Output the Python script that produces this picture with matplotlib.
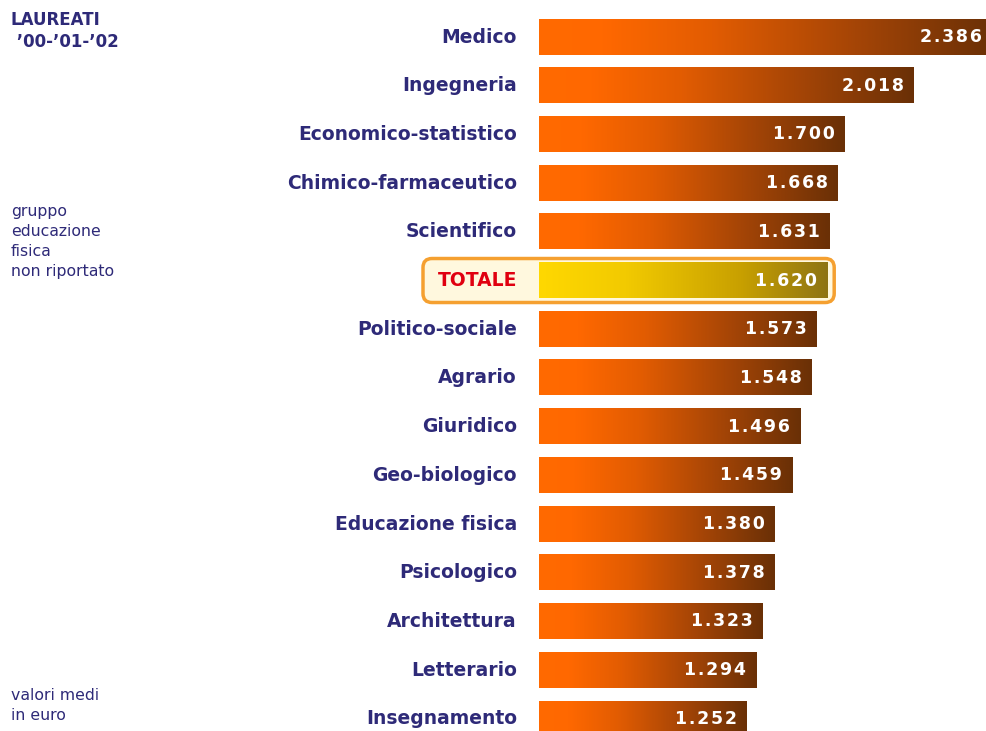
import numpy as np
import matplotlib.pyplot as plt
from matplotlib.colors import LinearSegmentedColormap
from matplotlib.patches import FancyBboxPatch
from matplotlib.transforms import IdentityTransform

# Average values in euro, graduates '00-'01-'02
categories = ["Medico", "Ingegneria", "Economico-statistico", "Chimico-farmaceutico",
              "Scientifico", "TOTALE", "Politico-sociale", "Agrario", "Giuridico",
              "Geo-biologico", "Educazione fisica", "Psicologico", "Architettura",
              "Letterario", "Insegnamento"]
values = [2386, 2018, 1700, 1668, 1631, 1620, 1573, 1548, 1496, 1459,
          1380, 1378, 1323, 1294, 1252]
value_labels = ["2.386", "2.018", "1.700", "1.668", "1.631", "1.620", "1.573", "1.548",
                "1.496", "1.459", "1.380", "1.378", "1.323", "1.294", "1.252"]
TOTAL_LABEL = "TOTALE"

NAVY = "#2E2A78"
X_START = 298   # value where the visible bars begin
X_END = 2353

orange_cmap = LinearSegmentedColormap.from_list(
    "orange", [(0, "#FF6A00"), (0.14, "#FF6800"), (0.38, "#E25C02"),
               (0.68, "#A84606"), (1, "#6A3006")])
gold_cmap = LinearSegmentedColormap.from_list(
    "gold", [(0, "#FFD800"), (0.3, "#F2CA00"), (0.7, "#C8A000"), (1, "#8E7414")])

fig = plt.figure(figsize=(9.87, 7.31), dpi=100)
ax = fig.add_axes([539 / 987, 0, 448 / 987, 1])
ax.set_xlim(X_START, X_END)
ax.set_ylim(14.25, -0.76)
ax.axis("off")
ax.set_zorder(2)

grad = np.linspace(0, 1, 256).reshape(1, -1)
h = 0.36
for i, (cat, v, lab) in enumerate(zip(categories, values, value_labels)):
    is_total = cat == TOTAL_LABEL
    cmap = gold_cmap if is_total else orange_cmap
    end = min(v, X_END)
    ax.imshow(grad, cmap=cmap, extent=[X_START, v, i + h, i - h],
              aspect="auto", zorder=2, interpolation="bilinear")
    ax.annotate("\u200a".join(lab), xy=(end, i), xytext=(-10 if v < X_END else -5, 0),
                textcoords="offset pixels", ha="right", va="center",
                color="white", fontsize=12.5, fontweight="bold",
                family="DejaVu Sans", zorder=4)
    ax.annotate(cat, xy=(X_START, i), xytext=(-22, 0), textcoords="offset pixels",
                ha="right", va="center", color="#E00010" if is_total else NAVY,
                fontsize=13.5, fontweight="bold", family="DejaVu Sans",
                annotation_clip=False)

# highlight box around TOTALE, built in pixel space from the bar position
ti = categories.index(TOTAL_LABEL)
x0, yc = ax.transData.transform((X_START, ti))
x1, _ = ax.transData.transform((values[ti], ti))
bx0, bx1 = x0 - 116, x1 + 7
by0, by1 = yc - 22, yc + 22
box = FancyBboxPatch((bx0, by0), bx1 - bx0, by1 - by0,
                     boxstyle="round,pad=0,rounding_size=9",
                     facecolor="#FFF8DE", edgecolor="#F5A030", linewidth=2.5,
                     transform=IdentityTransform(), zorder=0)
fig.patches.append(box)
ax.set_facecolor("none")

fig.text(11 / 987, 1 - 11 / 731, "LAUREATI\n ’00-’01-’02", ha="left", va="top",
         color=NAVY, fontsize=12, fontweight="bold", family="DejaVu Sans",
         linespacing=1.3)
fig.text(11 / 987, 1 - 204 / 731, "gruppo\neducazione\nfisica\nnon riportato",
         ha="left", va="top", color=NAVY, fontsize=11.3, family="DejaVu Sans",
         linespacing=1.42)
fig.text(11 / 987, 1 - 688 / 731, "valori medi\nin euro",
         ha="left", va="top", color=NAVY, fontsize=11.3, family="DejaVu Sans",
         linespacing=1.42)

fig.savefig("out.png", dpi=100, facecolor="white")
